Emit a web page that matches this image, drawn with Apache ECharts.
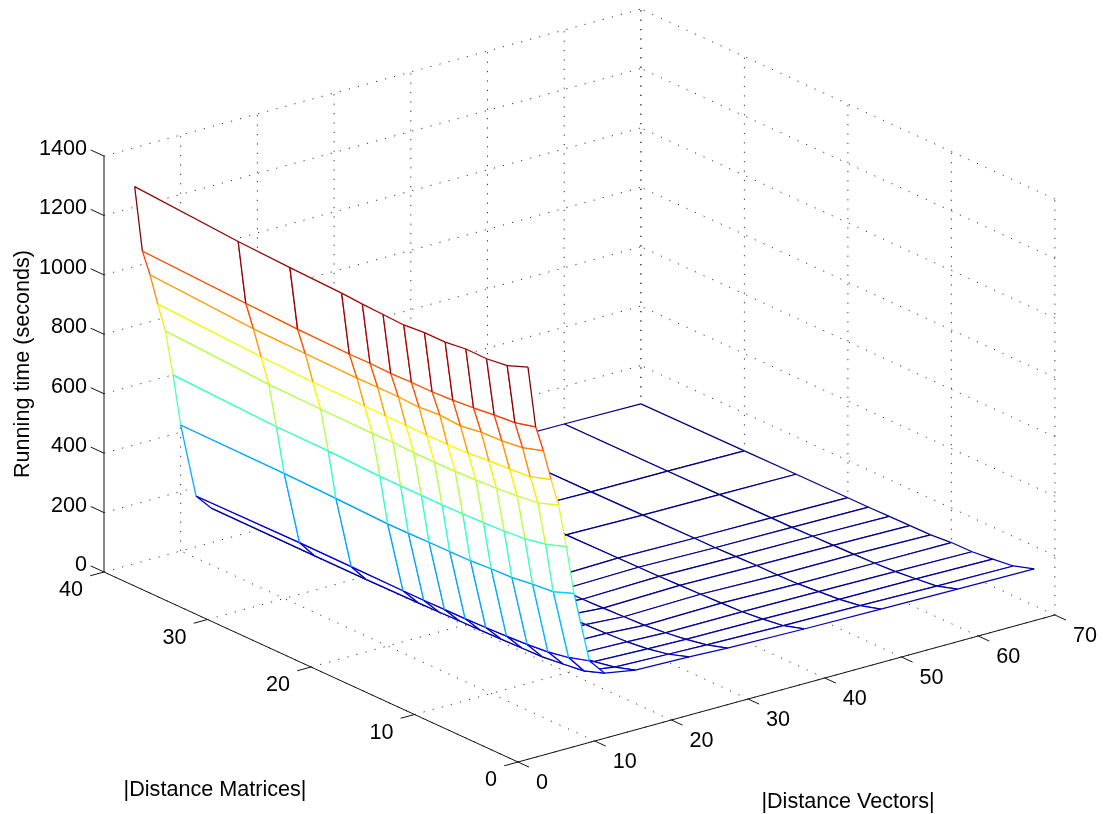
<!DOCTYPE html>
<html><head><meta charset="utf-8">
<style>html,body{margin:0;padding:0;background:#fff}#c{width:1103px;height:814px}</style>
<script src="https://cdn.jsdelivr.net/npm/echarts@6/dist/echarts.min.js"></script>
</head><body><div id="c"></div>
<script>
const xValues = [4,5,6,7,8,9,10,12,14,18,25,30,40,50,60,70];
const yValues = [2,4,6,8,10,12,14,16,18,20,25,30,40];
const zAtX4  = [1269,1242,1233,1234,1225,1225,1219,1222,1225,1230,1236,1244,1269];
const zAtX5  = [1061,1043,1037,1029,1023,1019,1019,1017,1019,1018,1022,1029,1045];
const zAtX6  = [974,952,943,940,929,934,928,931,931,930,933,936,958];
const zAtX7  = [870,847,841,837,830,828,827,828,828,829,830,835,853];
const zAtX8  = [777,752,743,737,733,730,729,729,732,730,732,735,755];
const zAtX9  = [629,606,592,586,582,580,578,578,578,578,584,585,600];
const zAtX10 = [465,439,432,423,420,415,414,413,412,411,417,421,424];
const zAtX12 = [224,203,190,183,179,176,174,173,172,172,173,174,171];
const zAtX14 = [168,144,135,127,125,123,121,120,118,117,115,115,116];
const zAtX18 = [150,128,115,105,100,98,96,95,94,93,92,91,90];
const zAtX25 = [145,122,108,100,96,94,92,90,88,86,84,82,78];
const zAtX30 = [139,118,105,95,88,85,82,80,80,78,76,75,74];
const zAtX40 = [133,112,102,95,92,90,88,86,85,84,82,80,78];
const zAtX50 = [129,109,98,92,86,84,84,82,80,80,78,76,75];
const zAtX60 = [126,104,96,89,85,83,81,80,78,78,76,75,74];
const zAtX70 = [123,101,92,85,84,78,77,76,75,75,74,73,71];
const zRows = [zAtX4,zAtX5,zAtX6,zAtX7,zAtX8,zAtX9,zAtX10,zAtX12,zAtX14,zAtX18,zAtX25,zAtX30,zAtX40,zAtX50,zAtX60,zAtX70];
const xTicks = [0,10,20,30,40,50,60,70];
const yTicks = [0,10,20,30,40];
const zTicks = [0,200,400,600,800,1000,1200,1400];
const xMax = 70, yMax = 40, zMax = 1400;
const xTitle = '|Distance Vectors|', yTitle = '|Distance Matrices|', zTitle = 'Running time (seconds)';

// orthographic view of the box, onto page-sized hidden axes
const project = (x,y,z) => [518 + 7.67*x - 10.35*y, 762 - 2.1*x - 4.75*y - 0.2971*z];

const allZ = zRows.flat(), zLo = Math.min(...allZ), zHi = Math.max(...allZ);
function jet(z){
  const v = (z-zLo)/(zHi-zLo);
  const c = t => Math.round(255*Math.max(0,Math.min(1,1.5-Math.abs(4*v-t))));
  return 'rgb('+c(3)+','+c(2)+','+c(1)+')';
}

const gridSegs = [];
for (const x of xTicks) {
  gridSegs.push([x,0,0,x,yMax,0]);
  if (x>0) gridSegs.push([x,yMax,0,x,yMax,zMax]);
}
for (const y of yTicks) {
  gridSegs.push([0,y,0,xMax,y,0]);
  gridSegs.push([xMax,y,0,xMax,y,zMax]);
}
for (const z of zTicks) {
  if (z>0) { gridSegs.push([0,yMax,z,xMax,yMax,z]); gridSegs.push([xMax,0,z,xMax,yMax,z]); }
}
const axisSegs = [[0,0,0,xMax,0,0],[0,0,0,0,yMax,0],[0,yMax,0,0,yMax,zMax]];
for (const x of xTicks) axisSegs.push([x,0,0,x,-1.07,0]);
for (const y of yTicks) axisSegs.push([0,y,0,-1.8,y,0]);
for (const z of zTicks) axisSegs.push([0,yMax,z,0,yMax+1.28,z]);

const meshCells = [];
for (let i=xValues.length-2;i>=0;i--) for (let j=yValues.length-2;j>=0;j--) meshCells.push([i,j]);

const FONT = '"Liberation Sans", Arial, sans-serif';
const TEXT_SIZE = 21.6;
const labels = [];
for (const x of xTicks){ const p=project(x,0,0); labels.push({t:String(x),x:p[0]+18,y:p[1]+21,a:'left'}); }
for (const y of yTicks){ const p=project(0,y,0); labels.push({t:String(y),x:p[0]-21,y:p[1]+18.5,a:'right'}); }
for (const z of zTicks){ const p=project(0,yMax,z); labels.push({t:String(z),x:p[0]-17,y:p[1]-7,a:'right'}); }
labels.push({t:xTitle,x:848,y:802,a:'center'});
labels.push({t:yTitle,x:215,y:790,a:'center'});
labels.push({t:zTitle,x:23,y:364,a:'center',r:Math.PI/2});

// row lines run along y at fixed x; column lines run along x at fixed y; each takes its start vertex's colour
function renderCell(params, api){
  const i = api.value(0), j = api.value(1);
  const P = (a,b) => api.coord(project(xValues[a],yValues[b],zRows[a][b]));
  const A=P(i,j),B=P(i+1,j),C=P(i+1,j+1),D=P(i,j+1);
  const edge=(p,q,col)=>({type:'line',shape:{x1:p[0],y1:p[1],x2:q[0],y2:q[1]},style:{stroke:col,lineWidth:1.25,fill:null}});
  return {type:'group',children:[
    {type:'polygon',shape:{points:[A,B,C,D]},style:{fill:'#fff',stroke:null}},
    edge(B,C,jet(zRows[i+1][j])),
    edge(D,C,jet(zRows[i][j+1])),
    edge(A,B,jet(zRows[i][j])),
    edge(A,D,jet(zRows[i][j]))
  ]};
}

function segRender(segs,style){
  return (params,api)=>{
    const s=segs[params.dataIndex];
    const a=api.coord(project(s[0],s[1],s[2])), b=api.coord(project(s[3],s[4],s[5]));
    return {type:'line',shape:{x1:a[0],y1:a[1],x2:b[0],y2:b[1]},style};
  };
}

const chart = echarts.init(document.getElementById('c'));
chart.setOption({
  animation:false,
  backgroundColor:'#fff',
  grid:{left:0,right:0,top:0,bottom:0},
  xAxis:{type:'value',min:0,max:1103,show:false},
  yAxis:{type:'value',min:0,max:814,inverse:true,show:false},
  series:[
    {type:'custom',coordinateSystem:'cartesian2d',silent:true,clip:false,z:1,
     data:gridSegs.map((s,i)=>[i]),encode:{x:0,y:0},
     renderItem:segRender(gridSegs,{stroke:'#333',lineWidth:1,lineDash:[1.2,8.2],fill:null})},
    {type:'custom',coordinateSystem:'cartesian2d',silent:true,clip:false,z:2,
     data:meshCells,encode:{x:0,y:1},renderItem:renderCell},
    {type:'custom',coordinateSystem:'cartesian2d',silent:true,clip:false,z:3,
     data:axisSegs.map((s,i)=>[i]),encode:{x:0,y:0},
     renderItem:segRender(axisSegs,{stroke:'#111',lineWidth:1,fill:null})},
    {type:'custom',coordinateSystem:'cartesian2d',silent:true,clip:false,z:4,
     data:labels.map((l,i)=>[i]),encode:{x:0,y:0},
     renderItem:(params,api)=>{
       const l=labels[params.dataIndex], p=api.coord([l.x,l.y]);
       return {type:'text',x:p[0],y:p[1],rotation:l.r||0,
         style:{text:l.t,fill:'#000',font:TEXT_SIZE+'px '+FONT,align:l.a,verticalAlign:'middle'}};
     }}
  ]
});
</script></body></html>
